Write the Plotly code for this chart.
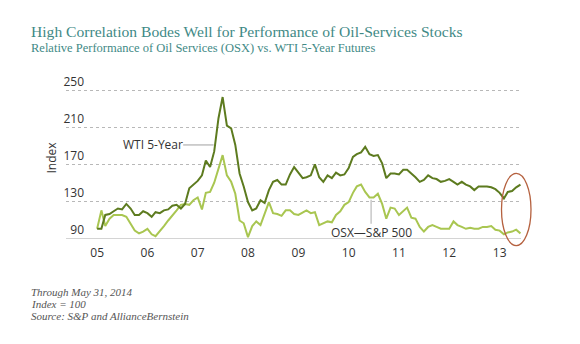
import pandas as pd
import plotly.graph_objects as go

# Monthly index levels (start = 100), Jan 2005 onward
months = pd.date_range("2005-01-01", periods=102, freq="MS")

wti_5yr = [
    100, 100, 115, 116, 119, 122, 121, 127, 122, 115,
    115, 119, 117, 113, 118, 117, 120, 121, 125, 126,
    122, 127, 144, 148, 152, 158, 174, 167, 184, 220,
    243, 212, 209, 191, 160, 146, 129, 120, 122, 131,
    128, 142, 151, 153, 148, 148, 159, 167, 161, 155,
    156, 158, 170, 156, 151, 158, 155, 161, 158, 159,
    166, 178, 181, 183, 189, 181, 179, 180, 171, 155,
    160, 160, 159, 164, 164, 160, 156, 151, 153, 158,
    155, 154, 151, 152, 154, 151, 148, 151, 148, 146,
    142, 146, 146, 146, 145, 143, 139, 133, 140, 141,
    145, 148,
]

osx_vs_spx = [
    100, 120, 103, 111, 115, 115, 115, 113, 106, 98,
    95, 97, 100, 94, 92, 97, 103, 109, 114, 120,
    126, 127, 126, 131, 134, 121, 139, 140, 150, 164,
    180, 158, 151, 138, 109, 106, 91, 103, 108, 104,
    117, 129, 117, 116, 114, 120, 120, 116, 115, 118,
    120, 117, 118, 104, 106, 108, 107, 115, 119, 126,
    129, 139, 146, 148, 140, 134, 134, 138, 127, 111,
    123, 122, 115, 119, 123, 112, 111, 102, 97, 102,
    104, 102, 100, 100, 100, 108, 104, 102, 100, 101,
    100, 100, 102, 102, 103, 99, 98, 94, 96, 97,
    99, 95,
]

y_ticks = [90, 130, 170, 210, 250]
x_tick_dates = pd.date_range("2005-01-01", "2013-01-01", freq="YS")
x_tick_text = [d.strftime("%y") for d in x_tick_dates]

DARK_GREEN = "#5d7b1f"
LIGHT_GREEN = "#a9c651"
TEAL = "#3f8a86"
SANS = "Open Sans, Noto Sans, sans-serif"
SERIF = "Liberation Serif, DejaVu Serif, serif"

W, H = 580, 344
M_L, M_R, M_T, M_B = 66, 59, 86, 106
PW = W - M_L - M_R
PH = H - M_T - M_B


def px_x(x):
    return (x - M_L) / PW


def px_y(y):
    return (H - M_B - y) / PH


fig = go.Figure()
fig.add_trace(go.Scatter(
    x=months, y=osx_vs_spx, mode="lines", name="OSX—S&P 500",
    line=dict(color=LIGHT_GREEN, width=2), hoverinfo="skip",
))
fig.add_trace(go.Scatter(
    x=months, y=wti_5yr, mode="lines", name="WTI 5-Year",
    line=dict(color=DARK_GREEN, width=2), hoverinfo="skip",
))

# series labels with thin gray leader lines
fig.add_annotation(
    x="2007-04-27", y=191, xref="x", yref="y",
    text="WTI 5-Year", showarrow=True, arrowhead=0, arrowwidth=1,
    arrowcolor="#a0a0a0", ax=-61, ay=0, axref="pixel", ayref="pixel",
    font=dict(family=SANS, size=12, color="#333333"), borderpad=0,
)
fig.add_annotation(
    x="2010-06-13", y=131.5, xref="x", yref="y",
    text="OSX—S&P 500", showarrow=True, arrowhead=0, arrowwidth=1.5,
    arrowcolor="#c8c8c8", ax=0, ay=33, axref="pixel", ayref="pixel",
    font=dict(family=SANS, size=12, color="#333333"), borderpad=0,
)

# highlight ring around the latest readings
fig.add_shape(
    type="circle", xref="paper", yref="paper",
    x0=px_x(501.5), x1=px_x(531), y0=px_y(245.7), y1=px_y(173.3),
    line=dict(color="#b5613f", width=1.3),
)

# vertical axis caption
fig.add_annotation(
    x=px_x(50.5), y=px_y(158), xref="paper", yref="paper",
    xanchor="center", yanchor="middle", showarrow=False, textangle=-90,
    text="Index", font=dict(family=SANS, size=12, color="#333333"),
)

# heading
fig.add_annotation(
    x=px_x(29), y=px_y(32), xref="paper", yref="paper",
    xanchor="left", yanchor="middle", showarrow=False,
    text="High Correlation Bodes Well for Performance of Oil-Services Stocks",
    font=dict(family=SERIF, size=15.6, color=TEAL),
)
fig.add_annotation(
    x=px_x(29), y=px_y(48), xref="paper", yref="paper",
    xanchor="left", yanchor="middle", showarrow=False,
    text="Relative Performance of Oil Services (OSX) vs. WTI 5-Year Futures",
    font=dict(family=SERIF, size=12.5, color=TEAL),
)

# notes
notes = ["Through May 31, 2014", "Index = 100", "Source: S&P and AllianceBernstein"]
for i, line in enumerate(notes):
    fig.add_annotation(
        x=px_x(30), y=px_y(291.5 + 12 * i), xref="paper", yref="paper",
        xanchor="left", yanchor="middle", showarrow=False, borderpad=0,
        text=f"<i>{line}</i>",
        font=dict(family=SERIF, size=11, color="#555555"),
    )

fig.update_layout(
    width=W, height=H,
    margin=dict(l=M_L, r=M_R, t=M_T, b=M_B, autoexpand=False),
    paper_bgcolor="white", plot_bgcolor="white",
    showlegend=False, hovermode=False,
    xaxis=dict(
        type="date", range=["2004-05-20", "2013-06-05"],
        tickvals=list(x_tick_dates), ticktext=x_tick_text,
        showgrid=False, zeroline=False, ticks="",
        showline=True, linecolor="#d4d4d4", linewidth=1,
        tickfont=dict(family=SANS, size=12, color="#333333"),
        ticklabelstandoff=4,
    ),
    yaxis=dict(
        range=[90, 255], tickvals=y_ticks,
        showgrid=True, gridcolor="#b8b8b8", griddash="dot", gridwidth=1,
        zeroline=False, ticks="", showline=False,
        ticklabelposition="outside top", ticklabelstandoff=-19,
        tickfont=dict(family=SANS, size=12, color="#333333"),
    ),
)

fig.write_html("out.html", config=dict(displayModeBar=False))
